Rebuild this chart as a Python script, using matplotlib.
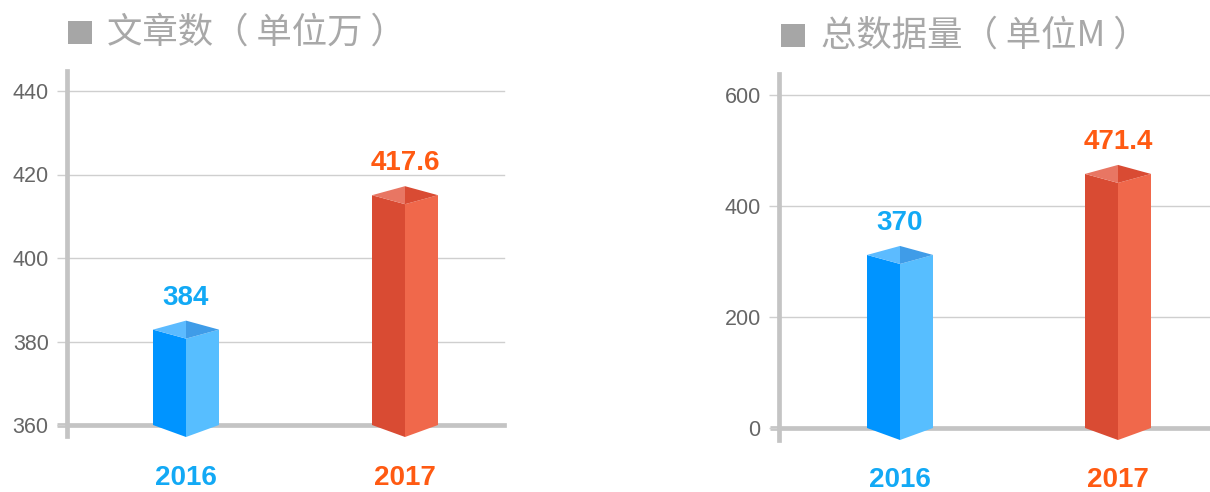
import matplotlib
matplotlib.use("Agg")
import matplotlib.pyplot as plt
from matplotlib.patches import Polygon, Rectangle

# ---------------- data ----------------
years = ["2016", "2017"]
articles_labels = ["384", "417.6"]          # label text, panel 1 (万)
articles_values = [385.0, 417.2]             # bar heights as drawn, panel 1
volume_labels = ["370", "471.4"]             # label text, panel 2 (M)
volume_values = [328.0, 474.0]               # bar heights as drawn, panel 2
articles_ticks = [360, 380, 400, 420, 440]
volume_ticks = [0, 200, 400, 600]
titles = ["文章数（ 单位万 ）", "总数据量（ 单位M ）"]

# ---------------- style ----------------
W, H, DPI = 12.10, 4.92, 100
year_colors = ["#12A9F5", "#FF5A12"]
faces = [  # left face, right face, top-left, top-right
    ["#0094FF", "#57BEFF", "#5CBBFF", "#3F9CE8"],
    ["#D94B33", "#F0684B", "#E87663", "#D94B33"],
]
grid_c = "#CFCFCF"
axis_c = "#C4C4C4"
tick_c = "#666666"
title_c = "#A8A8A8"

plt.rcParams["font.family"] = ["Liberation Sans", "DejaVu Sans"]
fig = plt.figure(figsize=(W, H), dpi=DPI)


def px_axes(x0, x1, ytop, ybot):
    """axes rect from pixel coords (top-left origin)."""
    return fig.add_axes([x0 / (W * DPI), 1 - ybot / (H * DPI),
                         (x1 - x0) / (W * DPI), (ybot - ytop) / (H * DPI)])


def draw_panel(ax, values, labels, ticks, ylim, xlim, grid_left_px, year_y):
    ax.set_xlim(*xlim)
    ax.set_ylim(*ylim)
    for s in ["top", "right", "bottom"]:
        ax.spines[s].set_visible(False)
    ax.spines["left"].set_color(axis_c)
    ax.spines["left"].set_linewidth(3.4)
    ax.set_xticks([])
    ax.set_yticks(ticks)
    ax.set_yticklabels([str(t) for t in ticks], fontsize=15.5, color=tick_c)
    ax.tick_params(axis="y", length=10 * 0.72, width=1.0, color=grid_c, pad=6)
    for t in ticks[1:]:
        ax.axhline(t, color=grid_c, lw=1.0, zorder=0.5, clip_on=False)
    ax.axhline(ticks[0], color=axis_c, lw=3.4, zorder=1, clip_on=False,
               xmin=0, xmax=1)
    inv = ax.transData.inverted()

    def to_disp(x, y):
        return ax.transData.transform((x, y))

    def to_data(px, py):
        return inv.transform((px, py))

    bx0, _ = to_data(grid_left_px, 0)
    ax.plot([bx0, xlim[0]], [ticks[0], ticks[0]], color=axis_c, lw=3.4,
            clip_on=False, zorder=1, solid_capstyle="butt")

    half = 33
    dtop = 9
    dbot = 12
    for i, (v, lab) in enumerate(zip(values, labels)):
        cx, cy = to_disp(i, v)
        _, by = to_disp(i, ticks[0])
        back = to_data(cx, cy)
        lt = to_data(cx - half, cy - dtop)
        rt = to_data(cx + half, cy - dtop)
        ft = to_data(cx, cy - 2 * dtop)
        lb = to_data(cx - half, by)
        rb = to_data(cx + half, by)
        fb = to_data(cx, by - dbot)
        fc = faces[i]
        ax.add_patch(Polygon([lt, ft, fb, lb], closed=True, fc=fc[0], ec="none",
                             zorder=3, clip_on=False))
        ax.add_patch(Polygon([ft, rt, rb, fb], closed=True, fc=fc[1], ec="none",
                             zorder=3, clip_on=False))
        ax.add_patch(Polygon([lt, back, ft], closed=True, fc=fc[2], ec="none",
                             zorder=3, clip_on=False))
        ax.add_patch(Polygon([back, rt, ft], closed=True, fc=fc[3], ec="none",
                             zorder=3, clip_on=False))
        ax.annotate(lab, xy=(i, v), xytext=(0, 10), textcoords="offset pixels",
                    ha="center", va="bottom", fontsize=20, fontweight="bold",
                    color=year_colors[i], annotation_clip=False)
        fig.text(cx / (W * DPI), 1 - year_y / (H * DPI), years[i],
                 ha="center", va="center", fontsize=20, fontweight="bold",
                 color=year_colors[i])


# Left panel: 440 at y=91, 360 at y=425 ; spine from 71 to 436
ppu1 = (425 - 91) / 80.0
ax1 = px_axes(67, 504, 71, 436)
ylim1 = (360 - 11 / ppu1, 440 + 20 / ppu1)
xlim1 = (-(186 - 67) / 219.0, 1 + (504 - 405) / 219.0)
draw_panel(ax1, articles_values, articles_labels, articles_ticks, ylim1, xlim1,
           57, 478)

# Right panel: 600 at y=95, 0 at y=428 ; spine from 74 to 440
ppu2 = (428 - 95) / 600.0
ax2 = px_axes(779, 1210, 74, 440)
ylim2 = (0 - 12 / ppu2, 600 + 21 / ppu2)
xlim2 = (-(900 - 779) / 218.0, 1 + (1210 - 1118) / 218.0)
draw_panel(ax2, volume_values, volume_labels, volume_ticks, ylim2, xlim2,
           770, 480)

# Titles with grey square markers
for (sx, sy, tx, ty), title in zip([(68, 21, 107, 33), (781, 24, 821, 36)], titles):
    fig.patches.append(Rectangle((sx / (W * DPI), 1 - (sy + 23) / (H * DPI)),
                                 24 / (W * DPI), 23 / (H * DPI),
                                 transform=fig.transFigure, fc="#A6A6A6",
                                 ec="none"))
    fig.text(tx / (W * DPI), 1 - ty / (H * DPI), title, fontsize=25.5,
             color=title_c, ha="left", va="center",
             family=["Noto Sans CJK SC", "DejaVu Sans"])

fig.savefig("out.png", dpi=DPI)
